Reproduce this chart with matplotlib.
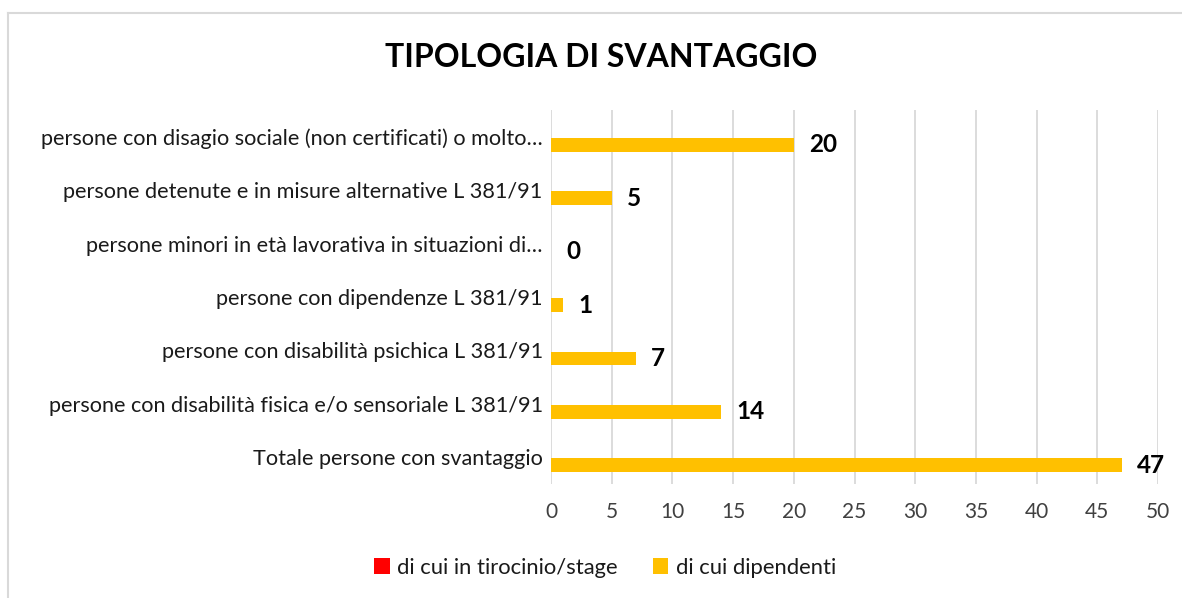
import matplotlib.pyplot as plt
import numpy as np

# categories, bottom to top as in the chart
categories = [
    "Totale persone con svantaggio",
    "persone con disabilità fisica e/o sensoriale L 381/91",
    "persone con disabilità psichica L 381/91",
    "persone con dipendenze L 381/91",
    "persone minori in età lavorativa in situazioni di…",
    "persone detenute e in misure alternative L 381/91",
    "persone con disagio sociale (non certificati) o molto…",
]
tirocinio = [0, 0, 0, 0, 0, 0, 0]
dipendenti = [47, 14, 7, 1, 0, 5, 20]
xticks = list(range(0, 55, 5))

plt.rcParams['font.family'] = ['Lato', 'DejaVu Sans']

fig = plt.figure(figsize=(11.82, 5.98), dpi=100)
ax = fig.add_axes([0.4662, 0.1906, 0.5135, 0.6255])

y = np.arange(len(categories))
h = 0.26
ax.barh(y + 0.13, tirocinio, height=h, color='#FF0000', label='di cui in tirocinio/stage', zorder=3)
ax.barh(y - 0.15, dipendenti, height=h, color='#FFC000', label='di cui dipendenti', zorder=3)

# data labels for the yellow series
for yi, v in zip(y, dipendenti):
    ax.annotate(str(v), (v, yi - 0.15), xytext=(11, 0), textcoords='offset points',
                ha='left', va='center', fontsize=17.5, fontweight='bold', color='black')

ax.set_xlim(0, 50)
ax.set_ylim(-0.5, len(categories) - 0.5)
ax.set_xticks(xticks)
ax.set_yticks(y)
ax.set_yticklabels(categories, fontsize=15.6, color='#1a1a1a')
ax.tick_params(axis='x', labelsize=15, colors='#404040', length=0, pad=13)
ax.tick_params(axis='y', length=0, pad=6)
ax.grid(axis='x', color='#D9D9D9', linewidth=1.3, zorder=0)
for s in ax.spines.values():
    s.set_visible(False)

fig.text(0.5085, 0.904, "TIPOLOGIA DI SVANTAGGIO", ha='center', va='center',
         fontsize=23, fontweight='bold', color='black')

leg = fig.legend(loc='center', bbox_to_anchor=(0.512, 0.051), ncol=2, frameon=False,
                 fontsize=15.8, handlelength=0.7, handleheight=0.7, columnspacing=1.6,
                 handletextpad=0.35)
for t in leg.get_texts():
    t.set_color('#1a1a1a')

# chart frame (top and left visible)
fig.add_artist(plt.Line2D([0.0068, 0.0068], [0, 0.978], color='#D9D9D9', lw=1.5))
fig.add_artist(plt.Line2D([0.0068, 1.0], [0.978, 0.978], color='#D9D9D9', lw=1.5))

fig.savefig('out.png', dpi=100)
